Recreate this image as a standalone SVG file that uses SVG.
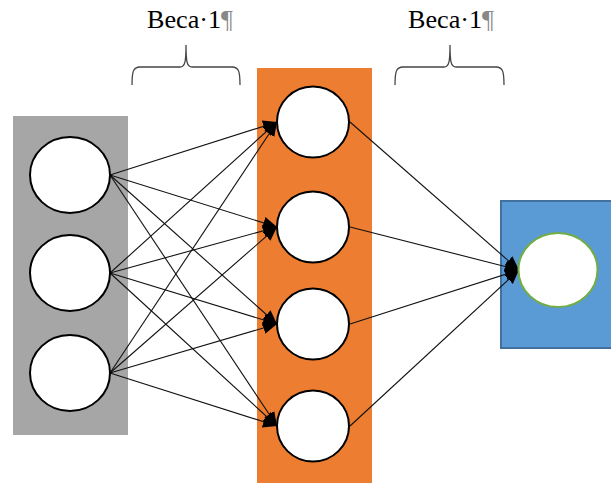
<svg xmlns="http://www.w3.org/2000/svg" width="611" height="483" viewBox="0 0 611 483">
<style>
.node{fill:#fff;stroke:#000;stroke-width:2}
.edge{stroke:#111;stroke-width:1.1;fill:none;marker-end:url(#arr)}
.brace{fill:none;stroke:#444;stroke-width:1.3}
.lbl{font-family:"Liberation Serif",serif;font-size:25px;fill:#000}
.pil{fill:#888}
</style>
<defs>
<marker id="arr" markerUnits="userSpaceOnUse" markerWidth="16" markerHeight="14" refX="14" refY="6" orient="auto">
<path d="M0,0 L14,6 L0,12 Z" fill="#000"/>
</marker>
</defs>
<rect x="13" y="116" width="115" height="319" fill="#a6a6a6"/>
<rect x="257" y="68" width="115" height="415" fill="#ed7d31"/>
<rect x="501" y="201" width="112" height="147" fill="#5b9bd5" stroke="#41719c" stroke-width="2"/>
<g id="brace1"><path class="brace" d="M132,85 C132,72 133,67 140,67 L180,67 C185,67 186,62 186,45 C186,62 187,67 192,67 L232,67 C239,67 240,72 240,85"/></g>
<g id="brace2"><path class="brace" d="M395,85 C395,72 396,67 403,67 L444,67 C449,67 450,62 450,45 C450,62 451,67 456,67 L496,67 C503,67 504,72 504,85"/></g>
<text class="lbl" x="147" y="28" textLength="86" lengthAdjust="spacingAndGlyphs">Beca·1<tspan class="pil">¶</tspan></text>
<text class="lbl" x="408" y="28" textLength="86" lengthAdjust="spacingAndGlyphs">Beca·1<tspan class="pil">¶</tspan></text>
<g id="connectors">
<line class="edge" x1="110" y1="175" x2="277" y2="122"/>
<line class="edge" x1="110" y1="175" x2="277" y2="227"/>
<line class="edge" x1="110" y1="175" x2="277" y2="324"/>
<line class="edge" x1="110" y1="175" x2="277" y2="426"/>
<line class="edge" x1="110" y1="273" x2="277" y2="122"/>
<line class="edge" x1="110" y1="273" x2="277" y2="227"/>
<line class="edge" x1="110" y1="273" x2="277" y2="324"/>
<line class="edge" x1="110" y1="273" x2="277" y2="426"/>
<line class="edge" x1="110" y1="373" x2="277" y2="122"/>
<line class="edge" x1="110" y1="373" x2="277" y2="227"/>
<line class="edge" x1="110" y1="373" x2="277" y2="324"/>
<line class="edge" x1="110" y1="373" x2="277" y2="426"/>
<line class="edge" x1="350" y1="122" x2="519" y2="270"/>
<line class="edge" x1="350" y1="227" x2="519" y2="270"/>
<line class="edge" x1="350" y1="324" x2="519" y2="270"/>
<line class="edge" x1="350" y1="426" x2="519" y2="270"/>
</g>
<g id="in1"><ellipse class="node" cx="70" cy="175" rx="40" ry="38"/></g>
<g id="in2"><ellipse class="node" cx="70" cy="273" rx="40" ry="38"/></g>
<g id="in3"><ellipse class="node" cx="70" cy="373" rx="40" ry="38"/></g>
<g id="h1"><ellipse class="node" cx="313" cy="122" rx="36" ry="35.5"/></g>
<g id="h2"><ellipse class="node" cx="313" cy="227" rx="36" ry="35.5"/></g>
<g id="h3"><ellipse class="node" cx="313" cy="324" rx="36" ry="35.5"/></g>
<g id="h4"><ellipse class="node" cx="313" cy="426" rx="36" ry="35.5"/></g>
<g id="out"><ellipse cx="558" cy="270" rx="39.5" ry="37" fill="#fff" stroke="#70ad47" stroke-width="2"/></g>
</svg>
